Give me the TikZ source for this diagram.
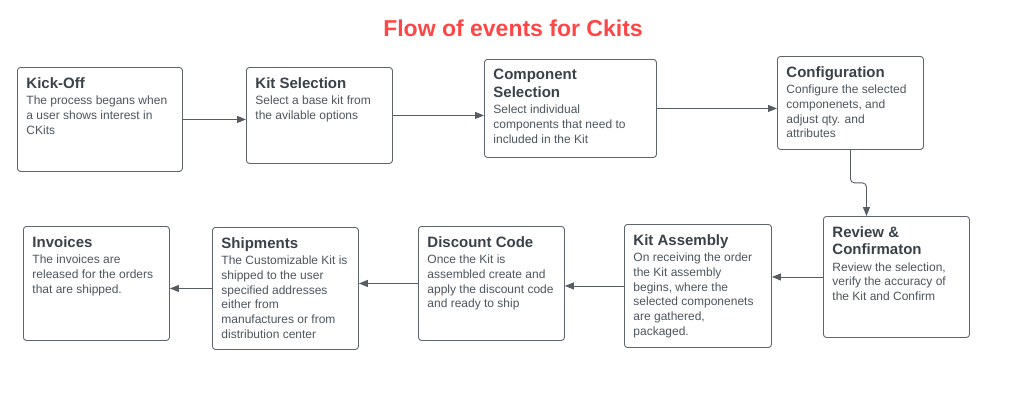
\documentclass[tikz,border=0pt]{standalone}
\usepackage{fontspec}
\setmainfont{Liberation Sans}
\usetikzlibrary{arrows.meta,calc}
\definecolor{cTitle}{HTML}{FF4646}
\definecolor{cHead}{HTML}{3B4149}
\definecolor{cBody}{HTML}{4E555D}
\definecolor{cEdge}{HTML}{5E646C}
\definecolor{cFlow}{HTML}{3A3F47}
\newcommand{\stagetitle}{\fontsize{15}{17.3}\selectfont\bfseries\color{cHead}}
\newcommand{\stagebody}{\fontsize{12}{14.7}\selectfont\color{cBody}}
% #1 inner height, #2 inner width, #3 heading, #4 description
\newcommand{\stagetext}[4]{\parbox[t][#1][t]{#2}{\raggedright
  {\stagetitle #3\par}\vspace{1.8pt}{\stagebody #4\par}}}

\begin{document}
\begin{tikzpicture}[
  x=1pt, y=-1pt,
  stage/.style={draw=cEdge, line width=0.9pt, rounded corners=3pt, fill=white,
                anchor=north west, inner xsep=9pt, inner ysep=10pt},
  flow/.style={draw=cFlow!85, line width=0.9pt,
               -{Triangle[length=9pt, width=7pt]}},
  heading/.style={font=\fontsize{23}{26}\selectfont\bfseries, text=cTitle},
]
\useasboundingbox (0,0) rectangle (1024,402);

\node[heading] (title) at (513,28) {Flow of events for Ckits};

% ---- top row ----
\node[stage] (kick) at (17,67)
  {\stagetext{84pt}{147pt}{Kick-Off}{The process begans when\\ a user shows interest in\\ CKits}};
\node[stage] (kitsel) at (246,67)
  {\stagetext{76pt}{128pt}{Kit Selection}{Select a base kit from\\ the avilable options}};
\node[stage] (comp) at (484,59)
  {\stagetext{78pt}{154pt}{Component\\ Selection}{Select individual\\ components that need to\\ included in the Kit}};
\node[stage] (config) at (777,56)
  {\stagetext{73pt}{128pt}{Configuration}{Configure the selected\\ componenets, and\\ adjust qty. and\\ attributes}};

% ---- bottom row ----
\node[stage] (review) at (823,216)
  {\stagetext{101pt}{128pt}{Review \&\\ Confirmaton}{Review the selection,\\ verify the accuracy of\\ the Kit and Confirm}};
\node[stage] (assembly) at (624,224)
  {\stagetext{103pt}{129pt}{Kit Assembly}{On receiving the order\\ the Kit assembly\\ begins, where the\\ selected componenets\\ are gathered,\\ packaged.}};
\node[stage] (discount) at (418,226)
  {\stagetext{94pt}{128pt}{Discount Code}{Once the Kit is\\ assembled create and\\ apply the discount code\\ and ready to ship}};
\node[stage] (ship) at (212,227)
  {\stagetext{102pt}{128pt}{Shipments}{The Customizable Kit is\\ shipped to the user\\ specified addresses\\ either from\\ manufactures or from\\ distribution center}};
\node[stage] (inv) at (23,226)
  {\stagetext{94pt}{128pt}{Invoices}{The invoices are\\ released for the orders\\ that are shipped.}};

% ---- connectors ----
\draw[flow] (kick.east) -- (kick.east -| kitsel.west);
\draw[flow] (kitsel.east) -- (kitsel.east -| comp.west);
\draw[flow] (comp.east) -- (comp.east -| config.west);
\draw[flow, rounded corners=4pt] (config.south) -- ++(0,33)
  -| ([xshift=-30pt]review.north);
\draw[flow] (review.west) -- (review.west -| assembly.east);
\draw[flow] (assembly.west) -- (assembly.west -| discount.east);
\draw[flow] (discount.west) -- (discount.west -| ship.east);
\draw[flow] (ship.west) -- (ship.west -| inv.east);
\end{tikzpicture}
\end{document}
